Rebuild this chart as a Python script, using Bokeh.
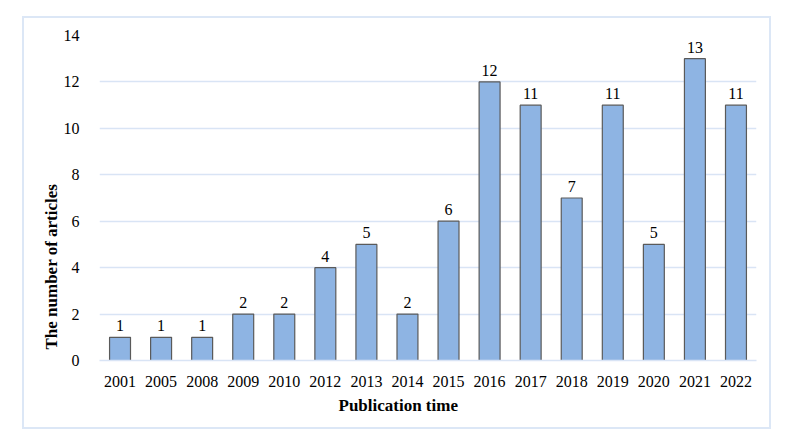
from bokeh.plotting import figure
from bokeh.models import ColumnDataSource, FactorRange, Title
from bokeh.embed import file_html
from bokeh.resources import INLINE

years = ["2001", "2005", "2008", "2009", "2010", "2012", "2013", "2014",
         "2015", "2016", "2017", "2018", "2019", "2020", "2021", "2022"]
counts = [1, 1, 1, 2, 2, 4, 5, 2, 6, 12, 11, 7, 11, 5, 13, 11]
y_ticks = [0, 2, 4, 6, 8, 10, 12, 14]
x_title = "Publication time"
y_title = "The number of articles"

FONT = "Liberation Serif"
GRID = "#D9E4F5"

src = ColumnDataSource(dict(x=years, top=counts, lbl=[str(c) for c in counts]))

p = figure(x_range=FactorRange(*years, range_padding=0), y_range=(0, 14),
           width=749, height=413, output_backend="svg", toolbar_location=None,
           min_border_left=75, min_border_right=17, min_border_top=17, min_border_bottom=71)
p.styles = {"border": "2px solid #DCE7F6", "margin-left": "22px", "margin-top": "16px"}
p.outline_line_color = None

p.vbar(x="x", top="top", width=0.51, source=src, fill_color="#8EB4E3",
       line_color="#5A5A5A", line_width=1.2)
p.text(x="x", y="top", text="lbl", source=src, text_align="center",
       text_baseline="bottom", y_offset=-6, text_font_size="16px",
       text_font={"value": FONT}, text_color="#000000")

p.yaxis.ticker = y_ticks
p.ygrid.grid_line_color = GRID
p.ygrid.grid_line_width = 1.5
p.xgrid.grid_line_color = None

for ax in (p.xaxis, p.yaxis):
    ax.major_tick_line_color = None
    ax.minor_tick_line_color = None
    ax.major_label_text_font = FONT
    ax.major_label_text_font_size = "16px"
    ax.major_label_text_color = "#000000"

p.yaxis.axis_line_color = None
p.xaxis.axis_line_color = GRID
p.xaxis.axis_line_width = 1.5
p.xaxis.major_label_standoff = 9
p.yaxis.major_label_standoff = 14

p.add_layout(Title(text=x_title, align="left", offset=239, standoff=9,
                   text_font=FONT, text_font_size="17px", text_font_style="bold",
                   text_color="#000000"), "below")
p.add_layout(Title(text=y_title, align="left", offset=11, standoff=0,
                   text_font=FONT, text_font_size="17px", text_font_style="bold",
                   text_color="#000000"), "left")

open("out.html", "w").write(file_html(p, INLINE))
